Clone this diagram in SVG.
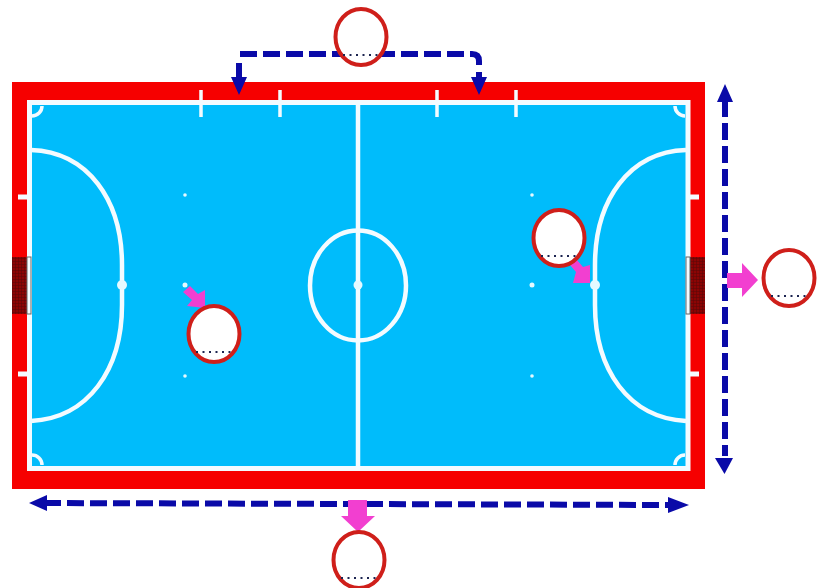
<svg xmlns="http://www.w3.org/2000/svg" width="827" height="588" viewBox="0 0 827 588">
<style>
.ln{fill:none;stroke:#f4fbff;stroke-width:4.5}
.thin{fill:none;stroke:#f4fbff;stroke-width:3.5}
.dot{fill:#e4f9ff}
.dash{fill:none;stroke:#0a0aa8;stroke-width:6;stroke-dasharray:17 6}
.shaft{fill:none;stroke:#0a0aa8;stroke-width:6}
.head{fill:#0a0aa8}
.pink{fill:#f23fd0}
.ring{fill:#fff;stroke:#cf1f1a;stroke-width:4}
.dots{fill:none;stroke:#1c2450;stroke-width:2;stroke-dasharray:2 4.500}
</style>
<defs>
<g id="player"><ellipse class="ring" cx="0" cy="0" rx="25.500" ry="28"/><path class="dots" d="M-18 18H20"/></g>
<pattern id="net" width="3" height="3" patternUnits="userSpaceOnUse"><rect width="3" height="3" fill="#8c0404"/><path d="M0 0H3M0 0V3" stroke="#560808" stroke-width="1"/></pattern>
</defs>
<rect width="827" height="588" fill="#fff"/>
<g id="court">
<rect x="12" y="82" width="693" height="407" fill="#f60000"/>
<rect x="29.500" y="102.500" width="658.500" height="366" fill="#00bcfb" stroke="#f4fbff" stroke-width="5"/>
<path class="ln" d="M358 103V468"/>
<ellipse class="ln" cx="358" cy="285.500" rx="48" ry="55"/>
<circle class="dot" cx="358" cy="285" r="4.500"/>
<path class="ln" d="M31 150C88 152 122 200 122 265V305C122 370 88 418 31 421"/>
<path class="ln" d="M686 150C629 152 595 200 595 265V305C595 370 629 418 686 421"/>
<circle class="dot" cx="122" cy="285" r="5"/>
<circle class="dot" cx="595" cy="285" r="5"/>
<path class="thin" d="M32 116A10 10 0 0 0 42 106M685 116A10 10 0 0 1 675 106M32 455A10 10 0 0 1 42 465M685 455A10 10 0 0 0 675 465" stroke-width="2"/>
<path class="thin" d="M201 90V117M280 90V117M437 90V117M516 90V117"/>
<path class="thin" d="M18 197H29M18 374H29M688 197H699M688 374H699" style="stroke-width:5"/>
<circle class="dot" cx="185" cy="195" r="1.800"/><circle class="dot" cx="185" cy="285" r="2.500"/><circle class="dot" cx="185" cy="376" r="1.800"/>
<circle class="dot" cx="532" cy="195" r="1.800"/><circle class="dot" cx="532" cy="285" r="2.500"/><circle class="dot" cx="532" cy="376" r="1.800"/>
</g>
<g id="goal-left"><rect x="12" y="257" width="15" height="57" fill="url(#net)"/><rect x="27" y="257" width="4" height="57" fill="none" stroke="#666" stroke-width="1"/></g>
<g id="goal-right"><rect x="690" y="257" width="15" height="57" fill="url(#net)"/><rect x="686" y="257" width="4" height="57" fill="none" stroke="#666" stroke-width="1"/></g>
<g id="connectors">
<path class="dash" d="M240 54H472Q479 54 479 61V66"/>
<path class="shaft" d="M239 63V78M479 72V78"/>
<path class="head" d="M231 77H247L239 95ZM471 77H487L479 95Z"/>
<path class="dash" d="M725 100V456"/>
<path class="head" d="M725 84L733 102H717ZM724.500 474L715 458H733Z"/>
<path class="dash" d="M44 503L672 505"/>
<path class="head" d="M29 503L47 495V511ZM689 505L668 497V513Z"/>
<path class="pink" d="M727 273H742V263L758 280L742 297V288H727ZM348 500H367V516H375L358 532L341 516H348ZM183 292L190 286L198 294L205 290V308L187 306L192 300Z"/>
<path class="pink" d="M570 265L577 260L583 267L590 265V283H573L576 272Z"/>
</g>
<g id="player-top"><use href="#player" transform="translate(361 37)"/></g>
<g id="player-left"><use href="#player" transform="translate(214 334)"/></g>
<g id="player-right"><use href="#player" transform="translate(559 238)"/></g>
<g id="player-goal"><use href="#player" transform="translate(789 278)"/></g>
<g id="player-bottom"><use href="#player" transform="translate(359 560)"/></g>
</svg>
